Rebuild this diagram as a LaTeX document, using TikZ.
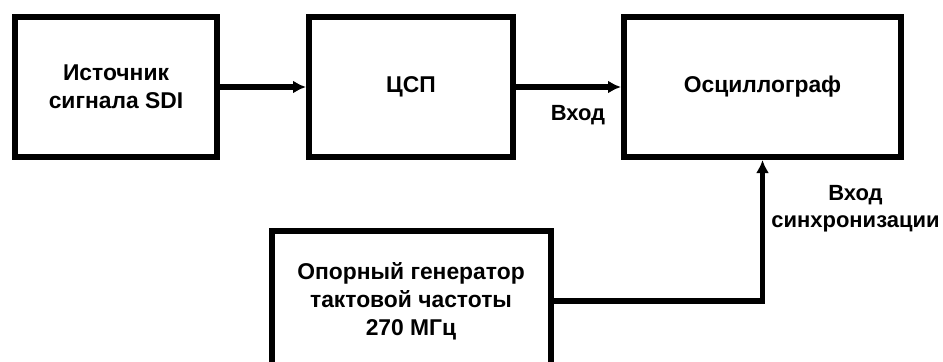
\documentclass[tikz,border=0pt]{standalone}
\usepackage{fontspec}
\setmainfont{Liberation Sans}
\usetikzlibrary{arrows.meta, positioning}

\begin{document}
\begin{tikzpicture}[node distance=1.72cm,
                box/.style={draw, line width=0.12cm, align=center, font=\bfseries\fontsize{13}{16}\selectfont,
                    minimum height=2.8cm, inner sep=0pt},
                lbl/.style={align=center, font=\bfseries\fontsize{12.5}{15.5}\selectfont, inner sep=0pt},
                arr/.style={-{Latex[length=0.26cm, width=0.26cm]}, line width=0.11cm}]
                \useasboundingbox (0,0) rectangle (18.86,-7.22);
                \clip (0,0) rectangle (18.86,-7.22);
                \node[box, minimum width=4.04cm] (src) at (2.32,-1.74) {Источник\\сигнала SDI};
                \node[box, minimum width=4.08cm, right=of src] (dsp) {ЦСП};
                \node[box, minimum width=5.54cm, right=2.1cm of dsp] (osc) {Осциллограф};
                \node[box, minimum width=5.58cm, below=1.36cm of dsp] (gen) {Опорный генератор\\тактовой частоты\\270 МГц};
                \node[lbl] (in) at ([xshift=-0.86cm, yshift=-0.56cm]osc.west) {Вход};
                \node[lbl] (sync) at ([xshift=1.86cm, yshift=-0.98cm]osc.south) {Вход\\синхронизации};
                \draw[arr] (src) -- (dsp);
                \draw[arr] (dsp) -- (osc);
                \draw[arr] (gen.east) -| (osc.south);
            \end{tikzpicture}
\end{document}
